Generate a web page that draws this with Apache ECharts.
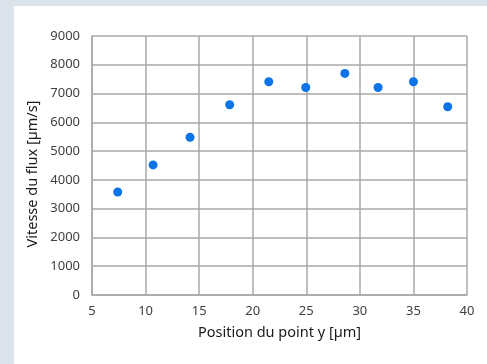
<!DOCTYPE html>
<html>
<head>
<meta charset="utf-8">
<script src="https://cdn.jsdelivr.net/npm/echarts@6/dist/echarts.min.js"></script>
<style>
  html, body { margin: 0; padding: 0; background: #dce3ea; }
  #panel { position: absolute; left: 14px; top: 6px; width: 473px; height: 358px; background: #ffffff; }
  #chart { width: 487px; height: 364px; position: absolute; left: 0; top: 0; }
</style>
</head>
<body>
<div id="panel"></div>
<div id="chart"></div>
<script>
// Measured flow velocity at each point position
const positions = [7.4, 10.7, 14.15, 17.85, 21.5, 24.95, 28.6, 31.7, 35.0, 38.2];
const velocities = [3580, 4520, 5480, 6610, 7410, 7210, 7700, 7210, 7410, 6540];
const xTitle = 'Position du point y [µm]';
const yTitle = 'Vitesse du flux [µm/s]';

const chart = echarts.init(document.getElementById('chart'), null, { renderer: 'canvas' });
const font = '"Noto Sans", "Open Sans", sans-serif';
const gridLine = { show: true, lineStyle: { color: '#a8a8a8', width: 1.5 } };
const titleStyle = { fontFamily: font, fontSize: 14.5, fill: '#1a1a1a' };

chart.setOption({
  backgroundColor: 'transparent',
  animation: false,
  grid: { left: 92, right: 20, top: 36, bottom: 69 },
  graphic: [
    {
      type: 'text', x: 33, y: 174, rotation: Math.PI / 2,
      style: Object.assign({ text: yTitle, align: 'center', verticalAlign: 'middle' }, titleStyle)
    }
  ],
  xAxis: {
    type: 'value', min: 5, max: 40, interval: 5,
    name: xTitle, nameLocation: 'middle', nameGap: 30,
    nameTextStyle: { fontFamily: font, fontSize: 14.5, color: '#1a1a1a' },
    axisLine: { show: true, lineStyle: { color: '#a8a8a8', width: 1.5 } },
    axisTick: { show: false },
    axisLabel: { fontFamily: font, fontSize: 13, color: '#404040', margin: 10 },
    splitLine: gridLine
  },
  yAxis: {
    type: 'value', min: 0, max: 9000, interval: 1000,
    axisLine: { show: true, lineStyle: { color: '#a8a8a8', width: 1.5 } },
    axisTick: { show: false },
    axisLabel: { fontFamily: font, fontSize: 13, color: '#404040', margin: 12, formatter: v => String(v) },
    splitLine: gridLine
  },
  series: [{
    type: 'scatter',
    symbol: 'circle',
    symbolSize: 9,
    itemStyle: { color: '#0a74e8', opacity: 1 },
    data: positions.map((x, i) => [x, velocities[i]])
  }]
});
</script>
</body>
</html>
